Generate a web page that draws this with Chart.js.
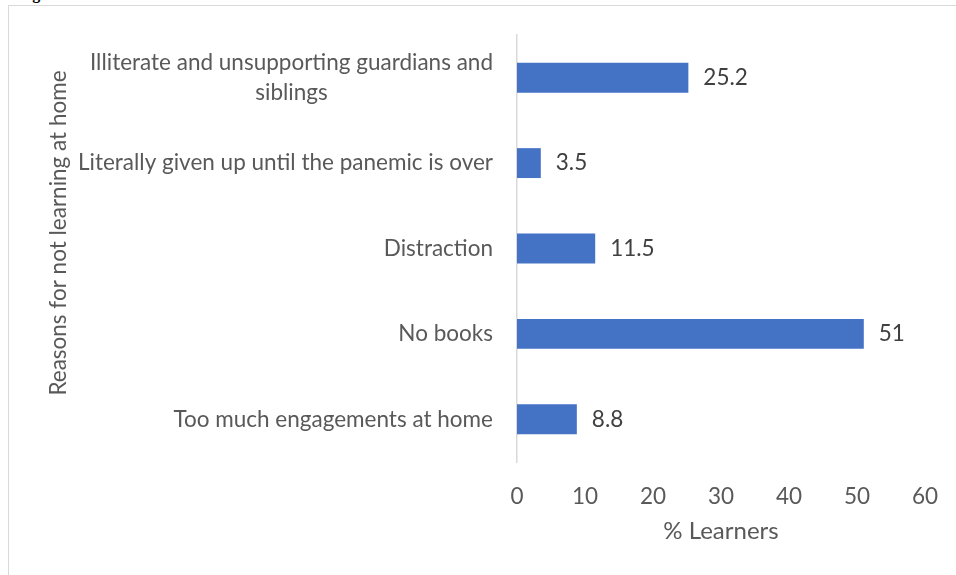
<!DOCTYPE html>
<html>
<head>
<meta charset="utf-8">
<script src="https://cdn.jsdelivr.net/npm/chart.js@4"></script>
<style>
html, body { margin: 0; padding: 0; background: #fff; overflow: hidden; }
#frame { position: absolute; left: 8px; top: 5px; width: 1200px; height: 800px;
         border-left: 1px solid #d9d9d9; border-top: 1px solid #d9d9d9; }
#cap { position: absolute; left: 18px; top: -14px; font: bold 16px "Liberation Serif"; line-height: 16px; color: #000; }
#wrap { position: absolute; left: 0; top: 0; width: 956px; height: 575px; }
</style>
</head>
<body>
<div id="cap">Fig</div>
<div id="frame"></div>
<div id="wrap"><canvas id="chart"></canvas></div>
<script>
// categories, top to bottom
const categories = [
    ['Illiterate and unsupporting guardians and', 'siblings'],
    'Literally given up until the panemic is over',
    'Distraction',
    'No books',
    'Too much engagements at home'
];
const learners = [25.2, 3.5, 11.5, 51, 8.8];
const xTicks = [0, 10, 20, 30, 40, 50, 60];
const xTitle = '% Learners';
const yTitle = 'Reasons for not learning at home';

const FONT = 'Lato';
const TICK_SIZE = 22.5;

// category labels, y title and value labels drawn by hand
const textPlugin = {
    id: 'textPlugin',
    afterDraw(chart) {
        const ctx = chart.ctx;
        const yScale = chart.scales.y;
        const meta = chart.getDatasetMeta(0);
        ctx.save();
        ctx.textBaseline = 'middle';

        // category labels: block right aligned, lines centred on each other
        ctx.font = TICK_SIZE + 'px ' + FONT;
        ctx.fillStyle = '#595959';
        ctx.textAlign = 'center';
        categories.forEach((lab, i) => {
            const lines = Array.isArray(lab) ? lab : [lab];
            const y = yScale.getPixelForTick(i);
            const widest = Math.max(...lines.map(l => ctx.measureText(l).width));
            const cx = yScale.right - 24 - widest / 2;
            lines.forEach((l, k) => {
                ctx.fillText(l, cx, y + (k - (lines.length - 1) / 2) * 30);
            });
        });

        // value labels
        ctx.fillStyle = '#404040';
        ctx.textAlign = 'left';
        meta.data.forEach((bar, i) => {
            ctx.fillText(String(learners[i]), bar.x + 15, bar.y);
        });

        // y axis title
        ctx.font = '22.5px ' + FONT;
        ctx.fillStyle = '#595959';
        ctx.textAlign = 'center';
        ctx.translate(59, 233);
        ctx.rotate(-Math.PI / 2);
        ctx.fillText(yTitle, 0, 0);
        ctx.restore();
    }
};

new Chart(document.getElementById('chart'), {
    type: 'bar',
    data: {
        labels: categories,
        datasets: [{
            data: learners,
            backgroundColor: '#4472C4',
            borderWidth: 0,
            categoryPercentage: 1,
            barPercentage: 0.35
        }]
    },
    options: {
        indexAxis: 'y',
        animation: false,
        responsive: true,
        maintainAspectRatio: false,
        layout: { padding: { left: 0, top: 35, right: 31, bottom: 0 } },
        plugins: {
            legend: { display: false },
            tooltip: { enabled: false }
        },
        scales: {
            x: {
                min: 0,
                max: 60,
                afterBuildTicks: (s) => { s.ticks = xTicks.map(v => ({ value: v })); },
                afterFit: (s) => { s.height = 113; },
                grid: { display: false },
                border: { display: false },
                ticks: {
                    padding: 13,
                    color: '#595959',
                    font: { family: FONT, size: TICK_SIZE }
                },
                title: {
                    display: true,
                    text: xTitle,
                    color: '#595959',
                    font: { family: FONT, size: 24 },
                    padding: { top: 0, bottom: 29 }
                }
            },
            y: {
                afterFit: (s) => { s.width = 517; },
                grid: { display: false },
                border: { display: true, color: '#d9d9d9', width: 1.5 },
                ticks: { display: false }
            }
        }
    },
    plugins: [textPlugin]
});
</script>
</body>
</html>
